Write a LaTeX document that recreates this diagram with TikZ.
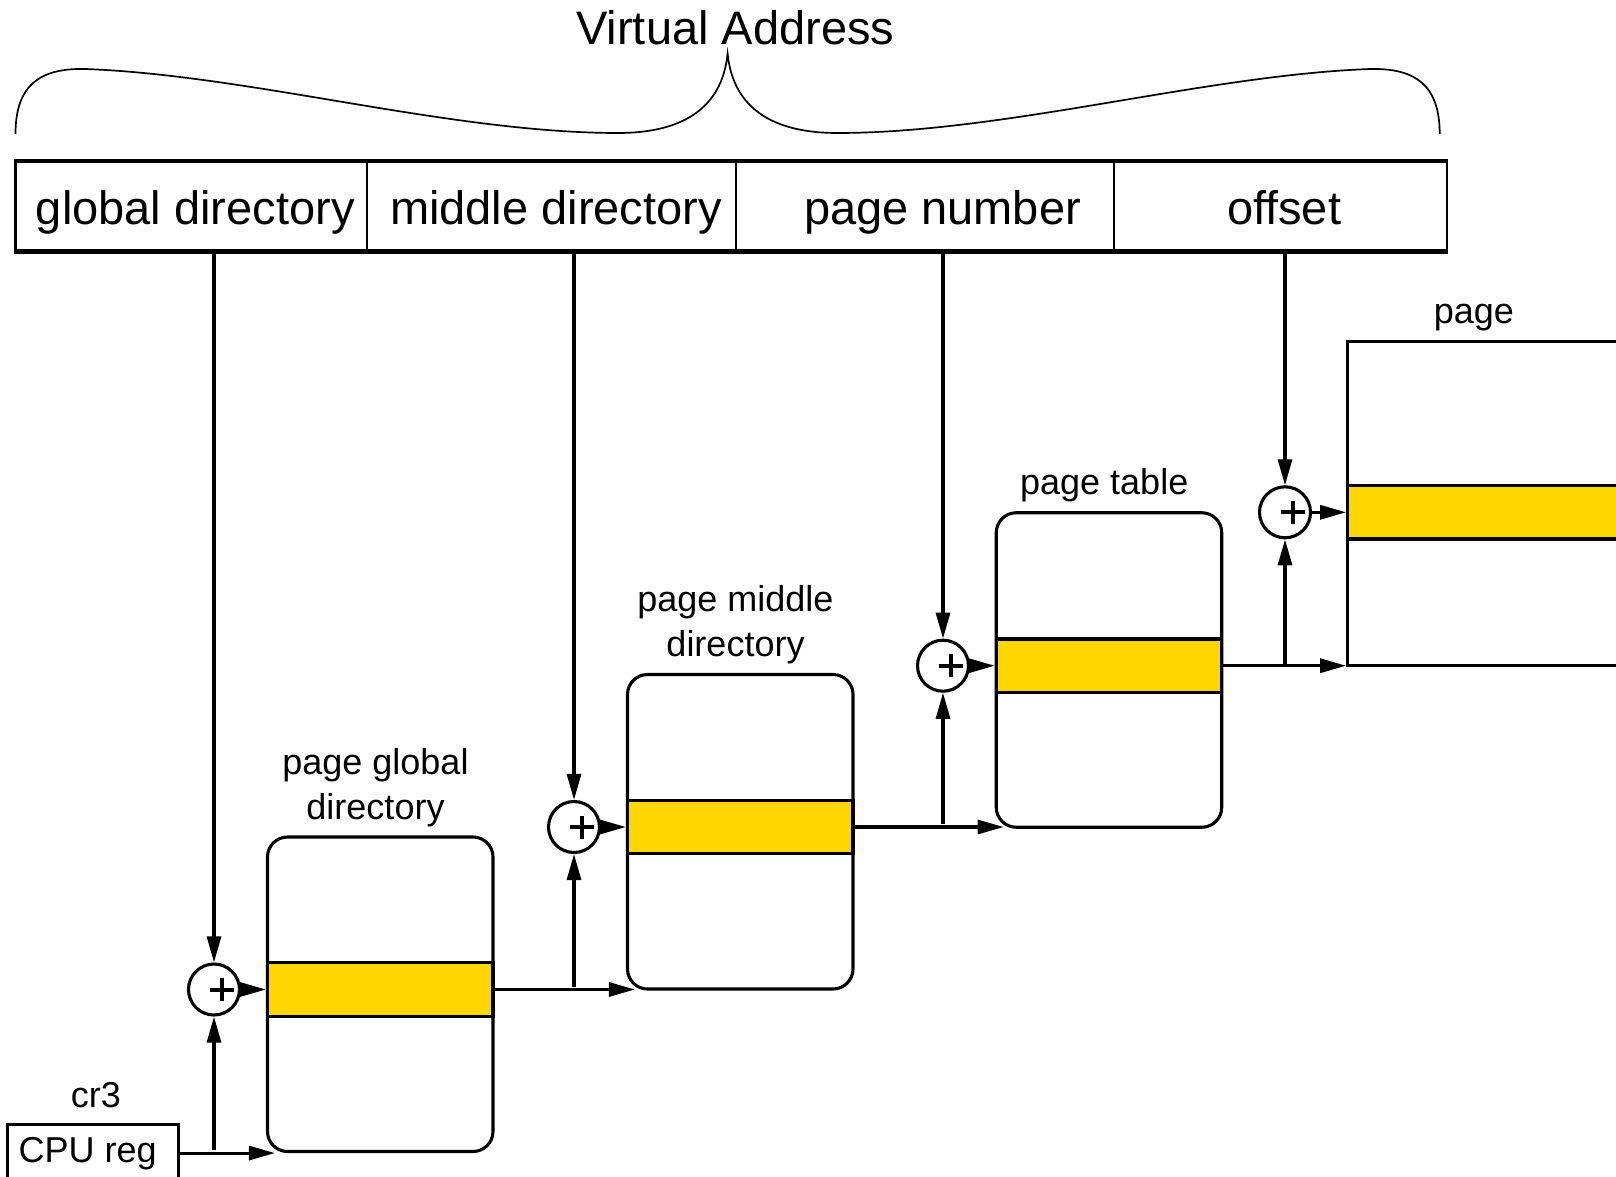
\documentclass[tikz,border=0pt]{standalone}
\usepackage{fontspec}
\setmainfont{Liberation Sans}
\usetikzlibrary{arrows.meta,calc}
\definecolor{bandyellow}{RGB}{255,214,0}
\begin{document}
\begin{tikzpicture}[x=1pt,y=-1pt,
  ln/.style={line width=3.1pt},
  arr/.style={line width=3.1pt, -{Triangle[length=26pt,width=14pt]}},
  tbl/.style={draw, ln, rounded corners=20pt, minimum width=225.5pt, minimum height=314.5pt, inner sep=0pt},
  band/.style={draw, ln, fill=bandyellow, minimum width=225.5pt, minimum height=53.4pt, inner sep=0pt},
  plusnode/.style={circle, draw, ln, fill=white, minimum size=51pt, inner sep=0pt,
    path picture={\draw[line width=4pt] ([xshift=7.5pt]path picture bounding box.center) +(-12pt,0) -- +(12pt,0) +(0,-11.5pt) -- +(0,11.5pt);}},
  cell/.style={draw, line width=2.4pt, minimum height=88.6pt, inner sep=0pt},
  big/.style={font=\fontsize{47}{56}\selectfont, anchor=base, inner sep=0pt},
  lbl/.style={font=\fontsize{36}{45}\selectfont, anchor=base, inner sep=0pt}
]
\useasboundingbox (0,0) rectangle (1616,1177);
\clip (0,0) rectangle (1616,1177);

% title and brace
\node[big] (va) at (735.3,45) {Virtual Address};
\draw[line width=1.7pt] (15.5,134) .. controls (15.5,85) and (40,68) .. (85,69)
  .. controls (250,75) and (450,133) .. (618,133)
  .. controls (680,133) and (722,110) .. (727.6,53.6)
  .. controls (733.2,110) and (775.2,133) .. (837.2,133)
  .. controls (1005.2,133) and (1205.2,75) .. (1370.2,69)
  .. controls (1415.2,68) and (1439.7,85) .. (1439.7,134);

% address fields
\node[cell, minimum width=351.4pt] (f1) at (191.2,206.1) {};
\node[cell, minimum width=368.9pt] (f2) at (551.35,206.1) {};
\node[cell, minimum width=378.3pt] (f3) at (924.95,206.1) {};
\node[cell, minimum width=332.9pt] (f4) at (1280.55,206.1) {};
\draw[line width=3.8pt] (f1.north west) -- (f4.north east);
\draw[line width=3.8pt] (f1.south west) -- (f4.south east);
\node[big] (t1) at (195.3,225) {global directory};
\node[big] (t2) at (556,225) {middle directory};
\node[big] (t3) at (942.5,225) {page number};
\node[big] (t4) at (1284.1,225) {offset};

% tables
\node[tbl] (pgd) at (380.25,994.25) {};
\node[band] (b1) at (380.25,989.5) {};
\node[tbl] (pmd) at (740.25,831.75) {};
\node[band] (b2) at (740.25,827) {};
\node[tbl] (pt) at (1109,670) {};
\node[band] (b3) at (1109,665.7) {};
\node[draw, ln, minimum width=400pt, minimum height=324pt, inner sep=0pt] (page) at (1547.7,503.7) {};
\node[band, minimum width=400pt] (b4) at (1547.7,512.3) {};

% labels
\node[lbl] (l1a) at (375.5,774.2) {page global};
\node[lbl] (l1b) at (375.5,819.2) {directory};
\node[lbl] (l2a) at (735.5,611.7) {page middle};
\node[lbl] (l2b) at (735.5,656.7) {directory};
\node[lbl] (l3) at (1104.25,494.4) {page table};
\node[lbl] (l4) at (1473.8,323.3) {page};

% cpu register
\node[draw, line width=2.6pt, minimum width=171.1pt, minimum height=85.6pt, inner sep=0pt] (cpu) at (92.75,1167.2) {};
\node[lbl] (cpulbl) at (87.6,1162) {CPU reg};
\node[lbl] (cr3) at (95.8,1107) {cr3};

% adders
\node[plusnode] (p1) at (214,989.5) {};
\node[plusnode] (p2) at (574,827) {};
\node[plusnode] (p3) at (943,665.7) {};
\node[plusnode] (p4) at (1285,512.3) {};

% connectors
\draw[arr] (p1 |- f1.south) -- (p1.north);
\draw[arr] (p2 |- f2.south) -- (p2.north);
\draw[arr] (p3 |- f3.south) -- (p3.north);
\draw[arr] (p4 |- f4.south) -- (p4.north);

\draw[arr] (p1.east) -- (b1.west);
\draw[arr] (p2.east) -- (b2.west);
\draw[arr] (p3.east) -- (b3.west);
\draw[arr] (p4.east) -- (b4.west);

\draw[arr] (cpu.east |- pgd.south) -- ([xshift=9pt]pgd.south west);
\draw[arr] ([yshift=3pt]p1 |- pgd.south) -- (p1.south);

\draw[arr] (b1.east) -- ([xshift=9pt]b1.east -| pmd.west);
\draw[arr] ([yshift=3pt]p2 |- b1.east) -- (p2.south);

\draw[arr] (b2.east) -- ([xshift=9pt]b2.east -| pt.west);
\draw[arr] ([yshift=3pt]p3 |- b2.east) -- (p3.south);

\draw[arr] (b3.east) -- (b3.east -| page.west);
\draw[arr] (p4 |- b3.east) -- (p4.south);
\end{tikzpicture}
\end{document}
